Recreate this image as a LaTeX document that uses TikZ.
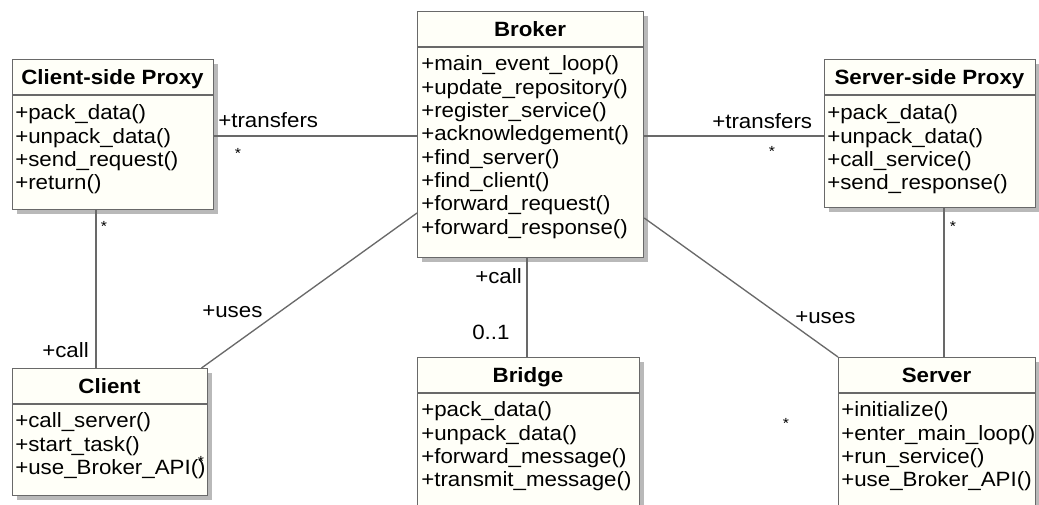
\documentclass[tikz,border=0pt]{standalone}
\usepackage{fontspec}
\setmainfont{Liberation Sans}[FakeStretch=1.08]
\usetikzlibrary{shadows}
\definecolor{boxfill}{RGB}{255,255,248}
\definecolor{edgec}{RGB}{105,105,105}
\definecolor{shadowc}{RGB}{185,185,185}
\tikzset{
 classbox/.style={draw=edgec, line width=0.9pt, fill=boxfill, anchor=north west, inner sep=0pt,
   drop shadow={shadow xshift=3pt, shadow yshift=-3pt, fill=shadowc, opacity=1}},
 divline/.style={draw=edgec, line width=0.9pt},
 titletext/.style={font=\bfseries\fontsize{15.5}{17.5}\selectfont, inner sep=0pt, anchor=base},
 ops/.style={font=\fontsize{15.5}{17.5}\selectfont, anchor=base west, inner sep=0pt},
 assoc/.style={draw=edgec, line width=1pt},
 lab/.style={font=\fontsize{15.5}{17.5}\selectfont, inner sep=0pt, anchor=west},
 mult/.style={font=\fontsize{11}{12}\selectfont, inner sep=0pt},
}
\newcommand\umlclass[7]{%
  \node[classbox, minimum width={(#4-#2)*0.75pt}, minimum height={(#5-#3)*0.75pt}] (#1) at (#2,#3) {};
  \draw[divline] (#2,#6) -- (#4,#6);
  \node[titletext] (#1-t) at ({(#2+#4)/2},{(#3+#6)/2+7.4}) {#7};
}
\newcommand\opslist[1]{\begin{tabular}[t]{@{}l@{}}#1\end{tabular}}
\begin{document}
\begin{tikzpicture}[x=0.75pt,y=-0.75pt]
\path[use as bounding box, clip] (0,0) rectangle (1039,505);
\fill[white] (0,0) rectangle (1039,505);

% classes
\umlclass{cp}{12}{59}{213}{209}{95}{Client-side Proxy}
\node[ops] (cp-ops) at (15,120) {\opslist{+pack\_data()\\+unpack\_data()\\+send\_request()\\+return()}};

\umlclass{broker}{417}{11}{643}{257}{47}{Broker}
\node[ops] (broker-ops) at (421,71) {\opslist{+main\_event\_loop()\\+update\_repository()\\+register\_service()\\+acknowledgement()\\+find\_server()\\+find\_client()\\+forward\_request()\\+forward\_response()}};

\umlclass{sp}{824}{59}{1035}{207}{95}{Server-side Proxy}
\node[ops] (sp-ops) at (827,120) {\opslist{+pack\_data()\\+unpack\_data()\\+call\_service()\\+send\_response()}};

\umlclass{client}{12}{368}{207}{495}{404}{Client}
\node[ops] (client-ops) at (15,428) {\opslist{+call\_server()\\+start\_task()\\+use\_Broker\_API()}};

\umlclass{bridge}{417}{357}{639}{525}{393}{Bridge}
\node[ops] (bridge-ops) at (421,417) {\opslist{+pack\_data()\\+unpack\_data()\\+forward\_message()\\+transmit\_message()}};

\umlclass{server}{838}{357}{1035}{525}{393}{Server}
\node[ops] (server-ops) at (841,417) {\opslist{+initialize()\\+enter\_main\_loop()\\+run\_service()\\+use\_Broker\_API()}};

% connectors
\draw[assoc] (cp.east |- 0,136) -- (broker.west |- 0,136);
\draw[assoc] (broker.east |- 0,136) -- (sp.west |- 0,136);
\draw[assoc] (cp.south -| 96,0) -- (client.north -| 96,0);
\draw[assoc] (broker.west |- 0,213) -- ([xshift=-5pt]client.north east);
\draw[assoc] (broker.south -| 527,0) -- (bridge.north -| 527,0);
\draw[assoc] (broker.east |- 0,218) -- (server.north west);
\draw[assoc] (sp.south -| 944,0) -- (server.north -| 944,0);

% labels
\node[lab] (l1) at (218,120) {+transfers};
\node[mult] (m1) at (238,153) {*};
\node[lab] (l2) at (712,121) {+transfers};
\node[mult] (m2) at (772,151) {*};
\node[mult] (m3) at (104,226) {*};
\node[lab] (l3) at (42,350) {+call};
\node[lab] (l4) at (202,312) {+uses};
\node[mult] (m4) at (201,461) {*};
\node[lab] (l5) at (475,276) {+call};
\node[lab] (l6) at (472,332) {0..1};
\node[lab] (l7) at (795,318) {+uses};
\node[mult] (m5) at (786,423) {*};
\node[mult] (m6) at (953,226) {*};
\end{tikzpicture}
\end{document}
